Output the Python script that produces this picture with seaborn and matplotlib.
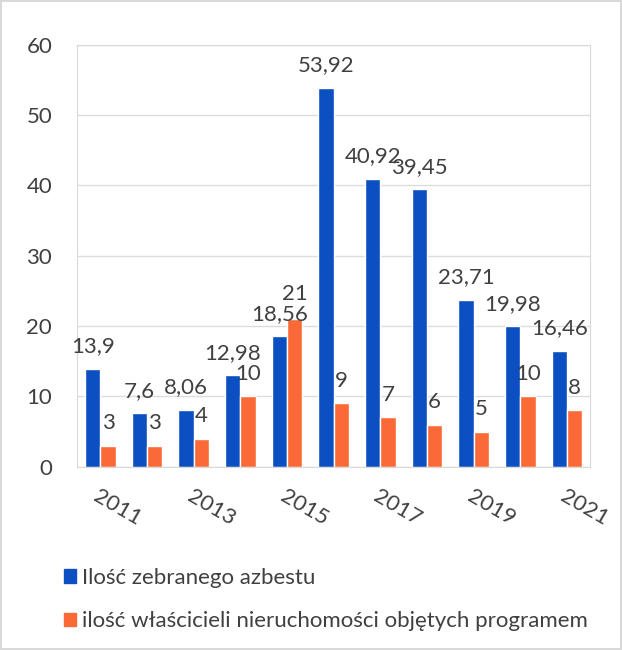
import pandas as pd
import matplotlib.pyplot as plt
import seaborn as sns

years = ['2011', '2012', '2013', '2014', '2015', '2016', '2017', '2018', '2019', '2020', '2021']
azbest = [13.9, 7.6, 8.06, 12.98, 18.56, 53.92, 40.92, 39.45, 23.71, 19.98, 16.46]
wlasciciele = [3, 3, 4, 10, 21, 9, 7, 6, 5, 10, 8]
series_names = ['Ilość zebranego azbestu', 'ilość właścicieli nieruchomości objętych programem']
colors = ['#0b4fc2', '#fb6a36']

df = pd.DataFrame({
    'rok': years * 2,
    'wartosc': azbest + wlasciciele,
    'seria': [series_names[0]] * len(years) + [series_names[1]] * len(years),
})

sns.set_style('white')
plt.rcParams['font.family'] = ['Lato', 'DejaVu Sans']

fig = plt.figure(figsize=(6.22, 6.5), dpi=100)
ax = fig.add_axes([0.124, 0.282, 0.825, 0.649])
sns.barplot(data=df, x='rok', y='wartosc', hue='seria', palette=colors,
            width=0.66, gap=0, saturation=1, ax=ax)

ax.set_ylim(0, 60)
ax.set_yticks(range(0, 61, 10))
ax.yaxis.grid(True, color='#dcdcdc', linewidth=1)
ax.set_axisbelow(True)
ax.set_xlabel('')
ax.set_ylabel('')
for s in ax.spines.values():
    s.set_color('#d9d9d9')
ax.tick_params(axis='both', length=0, labelsize=16, labelcolor='#404040')
ax.tick_params(axis='y', pad=18)

ax.set_xticks(range(0, len(years), 2))
ax.set_xticklabels(years[::2], rotation=-30, ha='left', va='top',
                   rotation_mode='anchor', fontsize=16)
ax.tick_params(axis='x', pad=14)

for i, cont in enumerate(ax.containers):
    labels = [f'{v:g}'.replace('.', ',') for v in cont.datavalues]
    texts = ax.bar_label(cont, labels=labels, padding=9, fontsize=16, color='#404040')
    if i == 1:
        # Excel pushed the "21" label up to dodge "18,56"
        texts[4].set_y(texts[4].get_position()[1] + 1.5)

ax.get_legend().remove()
handles = [plt.Rectangle((0, 0), 1, 1, color=c) for c in colors]
fig.legend(handles, series_names, loc='upper left', bbox_to_anchor=(0.07, 0.157),
           frameon=False, fontsize=16, labelspacing=1.05, handlelength=0.55,
           handleheight=0.55, handletextpad=0.3, labelcolor='#404040')

fig.patch.set_edgecolor('#d9d9d9')
fig.patch.set_linewidth(1.5)
fig.savefig('out.png', dpi=100, edgecolor=fig.get_edgecolor())
